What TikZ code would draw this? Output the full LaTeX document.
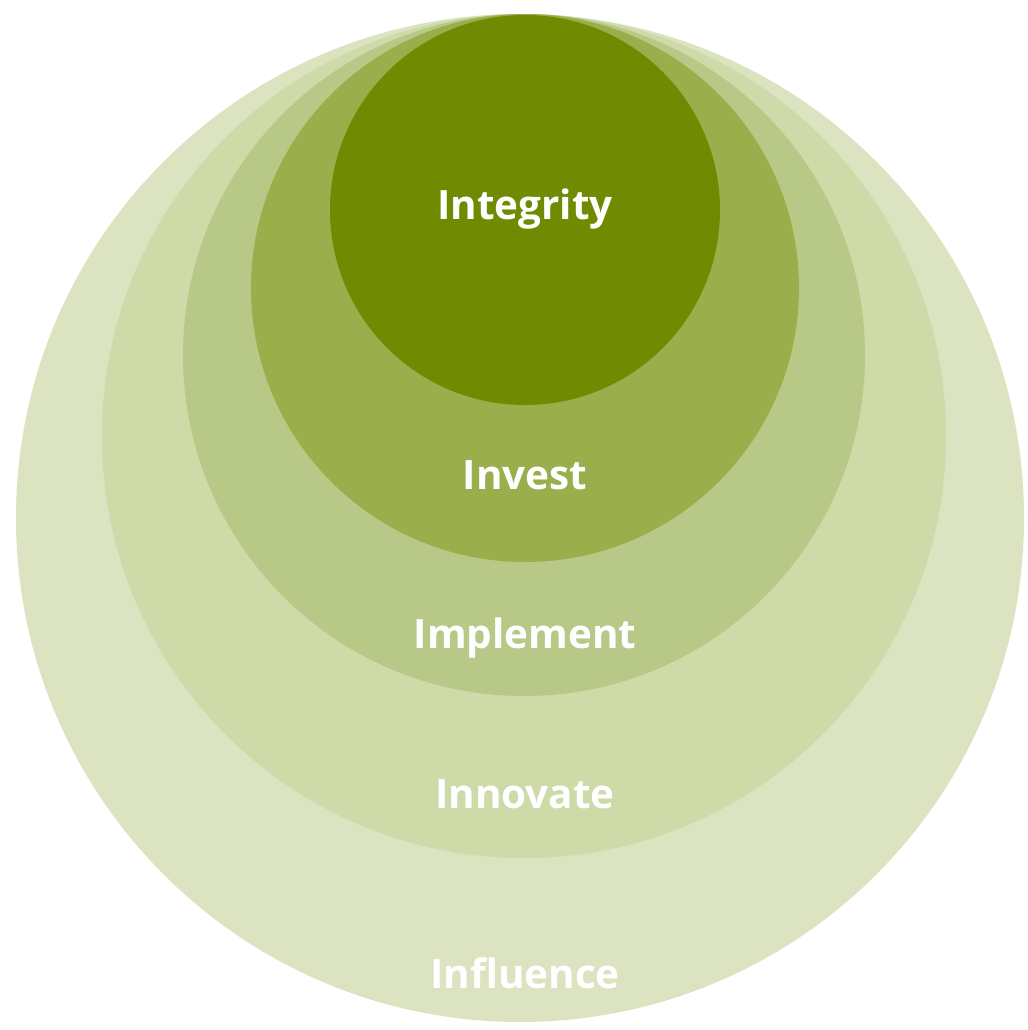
\documentclass[tikz,border=0pt]{standalone}
\usepackage{fontspec}
\setmainfont{Open Sans}
\definecolor{integritygreen}{HTML}{708A02}
\definecolor{investgreen}{HTML}{9BAE4C}
\definecolor{implementgreen}{HTML}{B8C887}
\definecolor{innovategreen}{HTML}{CEDAA8}
\definecolor{influencegreen}{HTML}{DBE3C0}
\begin{document}
\begin{tikzpicture}[x=0.01cm,y=-0.01cm,
	ringtext/.style={text=white,font=\fontsize{11.5}{14}\selectfont\bfseries,anchor=base,inner sep=0pt}]
	\useasboundingbox (0,0) rectangle (1028,1030);
	% rings, all touching at the top
	\fill[influencegreen] (520,518) circle (504);
	\fill[innovategreen] (524,436) circle (422);
	\fill[implementgreen] (524,355) circle (341);
	\fill[investgreen] (525,288) circle (274);
	\fill[integritygreen] (525,210) circle (195);
	\node[ringtext] (integrity) at (525,219) {Integrity};
	\node[ringtext] (invest) at (525,489) {Invest};
	\node[ringtext] (implement) at (525,648) {Implement};
	\node[ringtext] (innovate) at (525,808) {Innovate};
	\node[ringtext] (influence) at (525,988) {Influence};
\end{tikzpicture}
\end{document}
